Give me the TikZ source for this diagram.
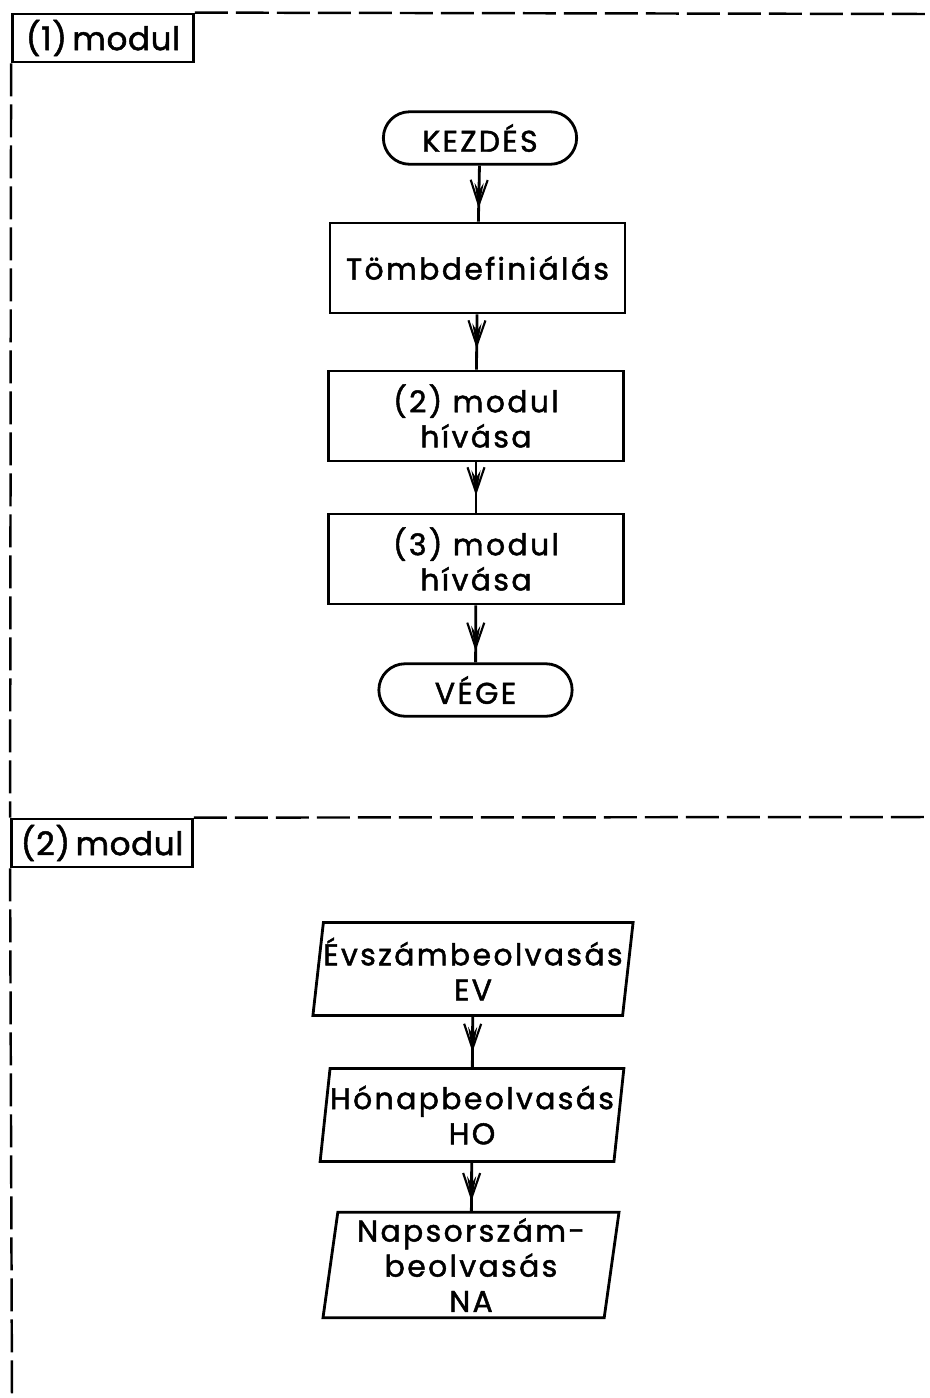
\documentclass[tikz,border=0pt]{standalone}
\usepackage{fontspec}
\setmainfont{Poppins}[LetterSpace=8,FakeBold=1.6]
\usetikzlibrary{arrows.meta,positioning,shapes.geometric,shapes.misc,decorations.markings}

\begin{document}
\begin{tikzpicture}[x=1cm,y=1cm,line width=1.6pt,font=\fontsize{17}{20}\selectfont,
 modlabel/.style={draw,minimum width=3.62cm,minimum height=.96cm,inner sep=0pt,
  font=\fontsize{18.5}{20}\selectfont\addfontfeatures{LetterSpace=2}},
 frame/.style={line width=1.4pt,dash pattern=on .66cm off .16cm},
 terminal/.style={draw,shape=rounded rectangle,minimum width=4.1cm,minimum height=1.05cm},
 process/.style={draw,minimum width=5.9cm,minimum height=1.8cm,align=center},
 io/.style={draw,shape=trapezium,trapezium left angle=82,trapezium right angle=98,
  trapezium stretches body,minimum width=5.92cm,minimum height=1.86cm,align=center,inner xsep=0pt},
 flow/.style={decoration={markings,mark=at position #1 with
  {\arrow{Straight Barb[length=5mm,width=3.4mm,line width=1.2pt]}
   \arrow{Stealth[length=5mm,width=1.8mm,inset=1.5mm]}}},postaction={decorate}},
 flow/.default=.68]
\useasboundingbox (0,0) rectangle (18.6,-27.96);
\node[modlabel] (lab1) at (2.06,-.76) {(1)\,modul};
\node[modlabel] (lab2) at (2.04,-16.86) {(2)\,modul};
\coordinate (right1) at (18.6,-.28);
\coordinate (right2) at (18.6,-16.34);
\coordinate (bottom) at (.24,-27.96);
\draw[frame] (lab1.north east)--(right1);
\draw[frame] (lab1.south west)--(lab2.north west);
\draw[frame] (lab2.north east)--(right2);
\draw[frame] (lab2.south west)--(bottom);

\node[terminal] (start) at (9.6,-2.76) {KEZDÉS};
\node[process] (tomb) at (9.55,-5.36) {Tömbdefiniálás};
\node[process] (call2) at (9.52,-8.32) {(2) modul\\hívása};
\node[process] (call3) at (9.52,-11.18) {(3) modul\\hívása};
\node[terminal] (stop) at (9.51,-13.8) {VÉGE};
\draw[flow=.76] (start)--(tomb);
\draw[flow=.62] (tomb)--(call2);
\draw[flow=.66] (call2)--(call3);
\draw[flow=.8] (call3)--(stop);

\node[io] (ev) at (9.46,-19.38) {Évszámbeolvasás\\EV};
\node[io] (ho) at (9.44,-22.3) {Hónapbeolvasás\\HO};
\node[io] (na) at (9.42,-25.3) {Napsorszám-\\beolvasás\\NA};
\draw[flow=.7] (ev)--(ho);
\draw[flow=.8] (ho)--(na);
\end{tikzpicture}
\end{document}
